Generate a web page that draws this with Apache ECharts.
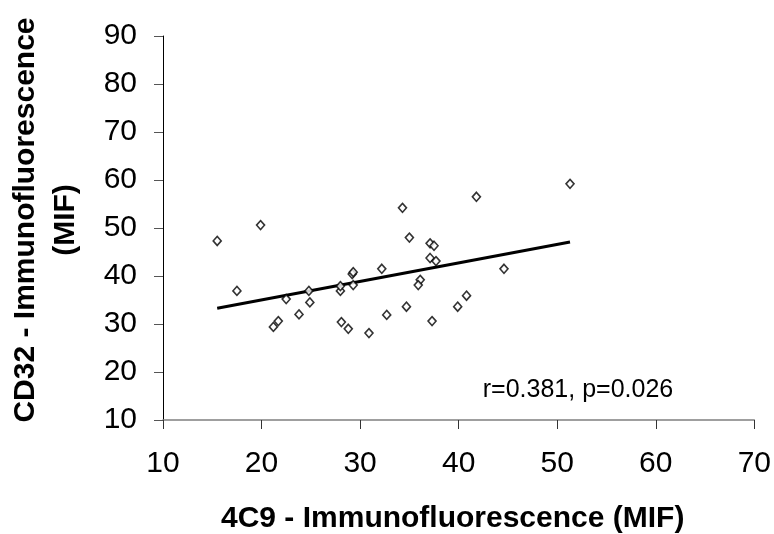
<!DOCTYPE html>
<html>
<head>
<meta charset="utf-8">
<script src="https://cdn.jsdelivr.net/npm/echarts@6/dist/echarts.min.js"></script>
<style>html,body{margin:0;padding:0;background:#fff}#c{width:774px;height:534px}</style>
</head>
<body>
<div id="c"></div>
<script>
// 4C9 MIF (x) and CD32 MIF (y)
const xValues = [15.5, 19.9, 17.5, 22.5, 24.9, 23.8, 21.2, 21.7, 28.1, 28.8, 28.0, 28.0, 24.8, 29.3, 29.2, 29.3,
                 51.3, 41.8, 34.3, 35.0, 37.1, 37.5, 37.1, 37.7, 32.2, 44.6, 36.1, 35.9, 34.7, 39.9, 40.8, 32.7, 37.3, 30.9];
const yValues = [47.3, 50.6, 36.9, 35.2, 34.5, 32.0, 29.4, 30.6, 30.4, 29.0, 36.9, 37.9, 36.9, 38.1, 40.4, 40.8,
                 59.2, 56.5, 54.2, 48.0, 46.8, 46.3, 43.75, 43.1, 41.5, 41.5, 39.2, 38.1, 33.6, 33.6, 35.9, 31.9, 30.6, 28.1];
const trendX = [15.5, 51.3];
const trendY = [33.3, 47.1];
const xTicks = [10, 20, 30, 40, 50, 60, 70];
const yTicks = [10, 20, 30, 40, 50, 60, 70, 80, 90];
const xTitle = '4C9 - Immunofluorescence (MIF)';
const yTitle = 'CD32 - Immunofluorescence\n(MIF)';
const statText = 'r=0.381, p=0.026';

const points = xValues.map((x, i) => [x, yValues[i]]);
const trend = trendX.map((x, i) => [x, trendY[i]]);

const chart = echarts.init(document.getElementById('c'), null, {renderer: 'canvas'});
const font = '"Liberation Sans", Arial, sans-serif';
chart.setOption({
  animation: false,
  backgroundColor: '#fff',
  grid: {left: 163, right: 19, top: 36, bottom: 114, containLabel: false},
  xAxis: {
    type: 'value', min: xTicks[0], max: xTicks[xTicks.length - 1], interval: 10,
    axisLine: {show: true, onZero: false, lineStyle: {color: '#808080', width: 1.5}},
    axisTick: {show: true, length: 9, lineStyle: {color: '#333', width: 1}},
    axisLabel: {fontFamily: font, fontSize: 30, color: '#000', margin: 29},
    splitLine: {show: false}
  },
  yAxis: {
    type: 'value', min: yTicks[0], max: yTicks[yTicks.length - 1], interval: 10,
    axisLine: {show: true, lineStyle: {color: '#000', width: 1}},
    axisTick: {show: true, length: 9, lineStyle: {color: '#555', width: 1}},
    axisLabel: {fontFamily: font, fontSize: 30, color: '#000', margin: 26},
    splitLine: {show: false}
  },
  graphic: [
    {type: 'text', left: 453 - 232, top: 504, style: {text: xTitle, font: 'bold 30px ' + font, fill: '#000'}},
    {type: 'text', x: 46, y: 220, rotation: Math.PI / 2,
     style: {text: yTitle, font: 'bold 30px ' + font, fill: '#000', align: 'center', verticalAlign: 'middle', lineHeight: 40}},
    {type: 'text', x: 578, y: 390, style: {text: statText, font: '25px ' + font, fill: '#000', align: 'center', verticalAlign: 'middle'}}
  ],
  series: [
    {
      type: 'scatter', data: points, symbol: 'diamond', symbolSize: [8, 9],
      itemStyle: {color: '#fff', borderColor: '#000', borderWidth: 1.6}, z: 3
    },
    {
      type: 'line', data: trend, showSymbol: false, symbol: 'none',
      lineStyle: {color: '#000', width: 3}, z: 2
    }
  ]
});
</script>
</body>
</html>
